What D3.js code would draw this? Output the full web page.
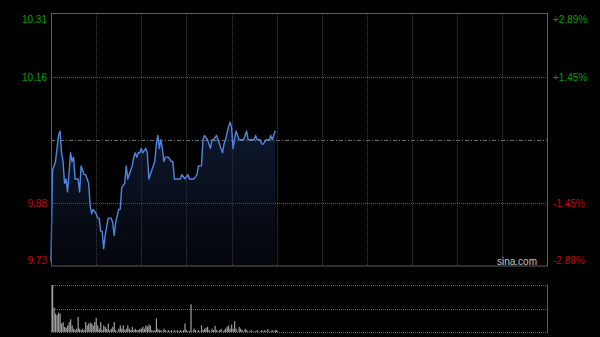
<!DOCTYPE html>
<html>
<head>
<meta charset="utf-8">
<script src="https://cdn.jsdelivr.net/npm/d3@7"></script>
<style>
	body { margin:0; background:#000; }
	svg { display:block; }
	text { font-family:Arial, "Liberation Sans", sans-serif; }
</style>
</head>
<body>
<svg id="chart" width="600" height="337"></svg>
<script>

// intraday minutes from 9:30 (HK session, 330 minutes)
var minutes = [0,1,3,5,6,7,8,9,10,11,13,14,15,16,18,19,20,22,23,25,26,27,28,30,31,32,33,34,35,36,
	38,40,41,42,43,45,46,47,49,50,51,53,54,55,56,57,58,59,60,61,63,64,65,67,69,70,71,72,73,74,
	75,76,78,80,81,82,86,87,89,91,92,95,97,98,100,101,102,104,106,107,108,110,111,113,114,115,116,118,119,120,
	121,122,123,125,128,130,131,135,136,137,139,140,141,143,145,146,147,148,149];
var prices = [9.74,9.95,9.97,10.03,10.04,9.99,9.97,9.92,9.93,9.90,9.99,9.97,9.98,9.93,9.93,9.90,9.96,9.94,9.94,9.92,
	9.87,9.85,9.86,9.85,9.84,9.84,9.81,9.81,9.77,9.80,9.84,9.84,9.83,9.80,9.83,9.86,9.86,9.91,9.92,9.96,
	9.93,9.95,9.96,9.98,9.99,9.98,9.99,9.99,10.00,9.99,10.00,9.99,9.93,9.95,9.97,10.01,10.03,10.00,10.02,10.00,
	9.97,9.98,9.98,9.97,9.97,9.93,9.93,9.94,9.93,9.94,9.93,9.93,9.94,9.96,9.96,10.02,10.03,10.02,10.00,10.02,
	10.02,10.03,10.02,10.00,9.99,10.01,10.02,10.05,10.06,10.05,10.00,10.02,10.04,10.02,10.02,10.04,10.02,10.02,10.03,10.02,
	10.02,10.01,10.01,10.02,10.02,10.03,10.02,10.03,10.04];

// volume per minute, relative (0-100)
var volumes = [100,52,39,36,41,39,18,21,11,9,14,21,27,14,7,4,7,32,7,4,
	7,4,21,14,18,20,18,14,21,30,14,7,21,4,14,11,7,18,4,7,
	11,21,4,1,7,14,7,14,4,7,14,7,4,11,4,7,4,4,7,7,
	11,7,14,11,16,14,4,2,4,29,7,4,4,1,7,4,1,4,1,4,
	1,4,1,4,1,4,1,4,18,4,1,2,59,1,7,4,1,4,1,14,
	4,7,9,11,4,1,7,4,13,4,1,4,7,1,4,7,11,14,7,16,
	7,23,7,1,11,7,4,1,7,4,1,1,4,1,1,1,4,1,1,4,
	1,4,1,6,1,1,4,1,4,4];

var prevClose = 10.02;
var priceTicks = [10.31, 10.165, 9.875, 9.73];
var priceLabels = ["10.31", "10.16", "9.88", "9.73"];
var pctLabels = ["+2.89%", "+1.45%", "-1.45%", "-2.89%"];
var timeGrid = [30,60,90,120,150,180,210,240,270,300];

var svg = d3.select("#chart");

var x = d3.scaleLinear().domain([0, 330]).range([51, 547.5]);
var y = d3.scaleLinear().domain([9.73, 10.31]).range([266, 13.5]);
var yVol = d3.scaleLinear().domain([0, 100]).range([332, 285]);

var green = "#00a000", red = "#d00000";

// area gradient
var grad = svg.append("defs").append("linearGradient")
	.attr("id", "fillGrad")
	.attr("x1", 0).attr("y1", 0).attr("x2", 0).attr("y2", 1);
grad.append("stop").attr("offset", "0%").attr("stop-color", "#1a2d55").attr("stop-opacity", 0.55);
grad.append("stop").attr("offset", "100%").attr("stop-color", "#1a2d55").attr("stop-opacity", 0.12);

var series = minutes.map(function(m, i){ return {m:m, p:prices[i]}; });

// grid
svg.selectAll(".vgrid")
	.data(timeGrid)
	.enter()
	.append("line")
	.attr("x1", function(d){ return Math.round(x(d)) + 0.5; })
	.attr("x2", function(d){ return Math.round(x(d)) + 0.5; })
	.attr("y1", 14).attr("y2", 266)
	.attr("stroke", "#3c3c3c")
	.attr("stroke-dasharray", "1,1");

svg.selectAll(".hgrid")
	.data([10.165, 9.875])
	.enter()
	.append("line")
	.attr("x1", 51).attr("x2", 547)
	.attr("y1", function(d){ return Math.round(y(d)) + 0.5; })
	.attr("y2", function(d){ return Math.round(y(d)) + 0.5; })
	.attr("stroke", "#5a5a5a")
	.attr("stroke-dasharray", "1,1");

// area and price line
svg.append("path")
	.datum(series)
	.attr("fill", "url(#fillGrad)")
	.attr("d", d3.area()
		.x(function(d){ return x(d.m); })
		.y0(266)
		.y1(function(d){ return y(d.p); }));

// previous close
svg.append("line")
	.attr("x1", 51).attr("x2", 547)
	.attr("y1", Math.round(y(prevClose)) + 0.5)
	.attr("y2", Math.round(y(prevClose)) + 0.5)
	.attr("stroke", "#6e6e6e")
	.attr("stroke-dasharray", "4,2,1,2");

svg.append("path")
	.datum(series)
	.attr("fill", "none")
	.attr("stroke", "#4f86e0")
	.attr("stroke-width", 1.4)
	.attr("stroke-linejoin", "round")
	.attr("d", d3.line()
		.x(function(d){ return x(d.m); })
		.y(function(d){ return y(d.p); }));

// frame
svg.append("rect")
	.attr("x", 51.5).attr("y", 13.5)
	.attr("width", 496).attr("height", 252.5)
	.attr("fill", "none")
	.attr("stroke", "#5c5c5c");

svg.append("text")
	.attr("x", 537).attr("y", 264.5)
	.attr("text-anchor", "end")
	.attr("font-size", 10)
	.attr("fill", "#c4c4c4")
	.text("sina.com");

// price labels
var labelY = [19, 77, 203, 260];
svg.selectAll(".plabel")
	.data(priceLabels)
	.enter()
	.append("text")
	.attr("x", 47)
	.attr("y", function(d, i){ return labelY[i]; })
	.attr("dy", "0.35em")
	.attr("text-anchor", "end")
	.attr("font-size", 10)
	.attr("fill", function(d, i){ return priceTicks[i] > prevClose ? green : red; })
	.text(function(d){ return d; });

svg.selectAll(".pctlabel")
	.data(pctLabels)
	.enter()
	.append("text")
	.attr("x", 553)
	.attr("y", function(d, i){ return labelY[i]; })
	.attr("dy", "0.35em")
	.attr("font-size", 10)
	.attr("fill", function(d, i){ return priceTicks[i] > prevClose ? green : red; })
	.text(function(d){ return d; });

// volume panel
svg.selectAll(".vline")
	.data([100, 50, 0])
	.enter()
	.append("line")
	.attr("x1", 51).attr("x2", 548)
	.attr("y1", function(d){ return Math.round(yVol(d)) + 0.5; })
	.attr("y2", function(d){ return Math.round(yVol(d)) + 0.5; })
	.attr("stroke", "#666")
	.attr("stroke-dasharray", "1,1");

svg.selectAll(".vside")
	.data([51.5, 547.5])
	.enter()
	.append("line")
	.attr("x1", function(d){ return d; })
	.attr("x2", function(d){ return d; })
	.attr("y1", 285).attr("y2", 332)
	.attr("stroke", "#5c5c5c");

svg.selectAll(".vbar")
	.data(volumes)
	.enter()
	.append("rect")
	.attr("x", function(d, i){ return x(i) + 1; })
	.attr("width", 1.2)
	.attr("y", function(d){ return yVol(d); })
	.attr("height", function(d){ return yVol(0) - yVol(d); })
	.attr("fill", "#a0a0a0");

</script>
</body>
</html>
